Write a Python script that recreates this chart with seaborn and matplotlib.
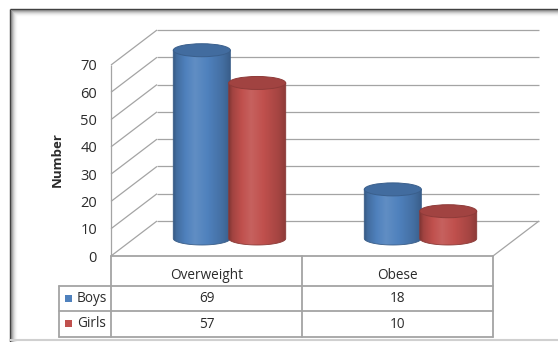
import numpy as np
import pandas as pd
import matplotlib
matplotlib.use("Agg")
import matplotlib.pyplot as plt
from matplotlib.patches import Ellipse, PathPatch, Rectangle
from matplotlib.path import Path
from matplotlib.colors import to_rgb
from matplotlib.transforms import blended_transform_factory
import seaborn as sns

# ---- data -------------------------------------------------------------
categories = ["Overweight", "Obese"]
groups = ["Boys", "Girls"]
boys = [69, 18]
girls = [57, 10]
y_ticks = [0, 10, 20, 30, 40, 50, 60, 70]
y_label = "Number"
group_colors = {"Boys": "#4F81BD", "Girls": "#C0504D"}

df = pd.DataFrame({
    "category": categories * 2,
    "group": ["Boys"] * len(categories) + ["Girls"] * len(categories),
    "value": boys + girls,
})

sns.set_style("white")
plt.rcParams["font.family"] = ["Open Sans", "DejaVu Sans"]
TEXT = "#2b2b2b"
GRID = "#a4a4a4"

W, H = 558, 342
fig = plt.figure(figsize=(W / 100, H / 100), dpi=100)

# background layer in pixel units (frame + data table)
bg = fig.add_axes([0, 0, 1, 1], zorder=0)
bg.set_xlim(0, W)
bg.set_ylim(H, 0)
bg.axis("off")

# plot area: front plane of the 3-D box
PX_L, PX_R, PX_B, PX_T = 111, 545, 256, 25
PX_PER_X = 191.0
PX_PER_V = 191.0 / 70
ax = fig.add_axes([PX_L / W, 1 - PX_B / H, (PX_R - PX_L) / W, (PX_B - PX_T) / H],
                  zorder=1)
ax.patch.set_alpha(0)

sns.barplot(data=df, x="category", y="value", hue="group", order=categories,
            hue_order=groups, palette=group_colors, width=0.58, legend=False,
            ax=ax)

XMIN = -0.5
XLIM = (XMIN, XMIN + (PX_R - PX_L) / PX_PER_X)
YLIM = (0, (PX_B - PX_T) / PX_PER_V)

# depth of the box (x in category units, y in value units)
DX = 46 / PX_PER_X
DY = 35 / PX_PER_V
ELL_H = 13 / PX_PER_V
x_front0, x_front1 = -0.5, len(categories) - 0.5

# ---- walls and floor ----------------------------------------------------
gkw = dict(color=GRID, lw=0.9, clip_on=False, zorder=0.5, solid_capstyle="butt")
for v in y_ticks:
    ax.plot([x_front0, x_front0 + DX], [v, v + DY], **gkw)
    ax.plot([x_front0 + DX, x_front1 + DX], [v + DY, v + DY], **gkw)
ax.plot([x_front0, x_front0], [0, max(y_ticks)], **gkw)
ax.plot([x_front1, x_front1 + DX], [0, DY], **gkw)


# ---- cylinders ------------------------------------------------------------
def shade(rgb, m):
    rgb = np.asarray(rgb)
    if m <= 1:
        return rgb * m
    return rgb + (1 - rgb) * (m - 1)


def cylinder(xc, w, base, top, color, z):
    rgb = np.array(to_rgb(color))
    t = np.linspace(0, 1, 256)
    knots_t = [0.0, 0.06, 0.22, 0.38, 0.6, 0.85, 1.0]
    knots_m = [0.68, 0.84, 1.0, 1.1, 1.0, 0.86, 0.72]
    m = np.interp(t, knots_t, knots_m)
    img = np.array([[shade(rgb, mi) for mi in m]])
    img = np.clip(img, 0, 1)

    left, right = xc - w / 2, xc + w / 2
    th = np.linspace(np.pi, 2 * np.pi, 60)
    pts = [(left, top), (left, base)]
    pts += list(zip(xc + w / 2 * np.cos(th), base + ELL_H / 2 * np.sin(th)))
    pts += [(right, base), (right, top), (left, top)]
    body = PathPatch(Path(pts, closed=True), transform=ax.transData,
                     facecolor="none", edgecolor=shade(rgb, 0.72), lw=0.6,
                     zorder=z + 0.1)
    ax.add_patch(body)
    im = ax.imshow(img, extent=[left, right, base - ELL_H / 2, top],
                   aspect="auto", interpolation="bilinear", zorder=z)
    im.set_clip_path(body)

    cap = Ellipse((xc, top), w, ELL_H, facecolor=shade(rgb, 0.84),
                  edgecolor=shade(rgb, 0.74), lw=0.7, zorder=z + 0.2)
    ax.add_patch(cap)


z = 2
for group, container in zip(groups, ax.containers):
    for bar in container:
        bar.set_visible(False)
for group, container in zip(groups, ax.containers):
    for bar in container:
        xc = bar.get_x() + bar.get_width() / 2 + DX / 2
        base = DY / 2
        cylinder(xc, bar.get_width() * 1.03, base, base + bar.get_height(),
                 group_colors[group], z)
        z += 1

ax.set_xlim(*XLIM)
ax.set_ylim(*YLIM)

# ---- axis styling -----------------------------------------------------------
for s in ax.spines.values():
    s.set_visible(False)
ax.set_xticks([])
ax.set_xlabel("")
ax.set_yticks(y_ticks)
ax.tick_params(axis="y", length=0, pad=10, labelsize=10.5, labelcolor=TEXT)
ax.set_ylabel(y_label, fontsize=9.5, fontweight="bold", color=TEXT)
ax.yaxis.set_label_coords(-0.108, 0.4156)

# ---- data table -----------------------------------------------------------------
tt = blended_transform_factory(ax.transData, bg.transData)
LEG_W = 0.272
row_edges = [256, 286, 311, 337]
tkw = dict(color=GRID, lw=1.3, transform=tt, clip_on=False, zorder=1)
x_leg = x_front0 - LEG_W
bg.plot([x_front0, x_front1], [row_edges[0]] * 2, **tkw)
for y in row_edges[1:]:
    bg.plot([x_leg, x_front1], [y, y], **tkw)
bg.plot([x_leg, x_leg], [row_edges[1], row_edges[-1]], **tkw)
for xb in np.arange(len(categories) + 1) - 0.5:
    bg.plot([xb, xb], [row_edges[0], row_edges[-1]], **tkw)

for i, cat in enumerate(categories):
    bg.text(i, 275.5, cat, transform=tt, ha="center", va="center",
            fontsize=9.8, color=TEXT)
for r, (group, vals) in enumerate(zip(groups, [boys, girls])):
    yc = (row_edges[r + 1] + row_edges[r + 2]) / 2
    for i, v in enumerate(vals):
        bg.text(i, yc, f"{v}", transform=tt, ha="center", va="center",
                fontsize=9.8, color=TEXT)
    sq = 7
    bg.add_patch(Rectangle((x_leg + 6 / PX_PER_X, yc - sq / 2 - 0.5),
                           sq / PX_PER_X, sq, transform=tt,
                           facecolor=group_colors[group], edgecolor="none"))
    bg.text(x_leg + 18 / PX_PER_X, yc - 0.5, group, transform=tt, ha="left",
            va="center", fontsize=9.8, color=TEXT)

# ---- chart frame ------------------------------------------------------------
for i, a in enumerate([1.0, 0.7, 0.45, 0.28, 0.16, 0.08, 0.03]):
    c = "#3a3a3a" if i == 0 else "#6e6e6e"
    bg.plot([10 + i, 10 + i], [9 + i, H], color=c, alpha=a, lw=1.0,
            solid_capstyle="butt")
    bg.plot([10 + i, W], [9 + i, 9 + i], color=c, alpha=a, lw=1.0,
            solid_capstyle="butt")
bg.plot([10, W], [340, 340], color="#d0d0d0", lw=1.5)

fig.savefig("out.png", dpi=100)
